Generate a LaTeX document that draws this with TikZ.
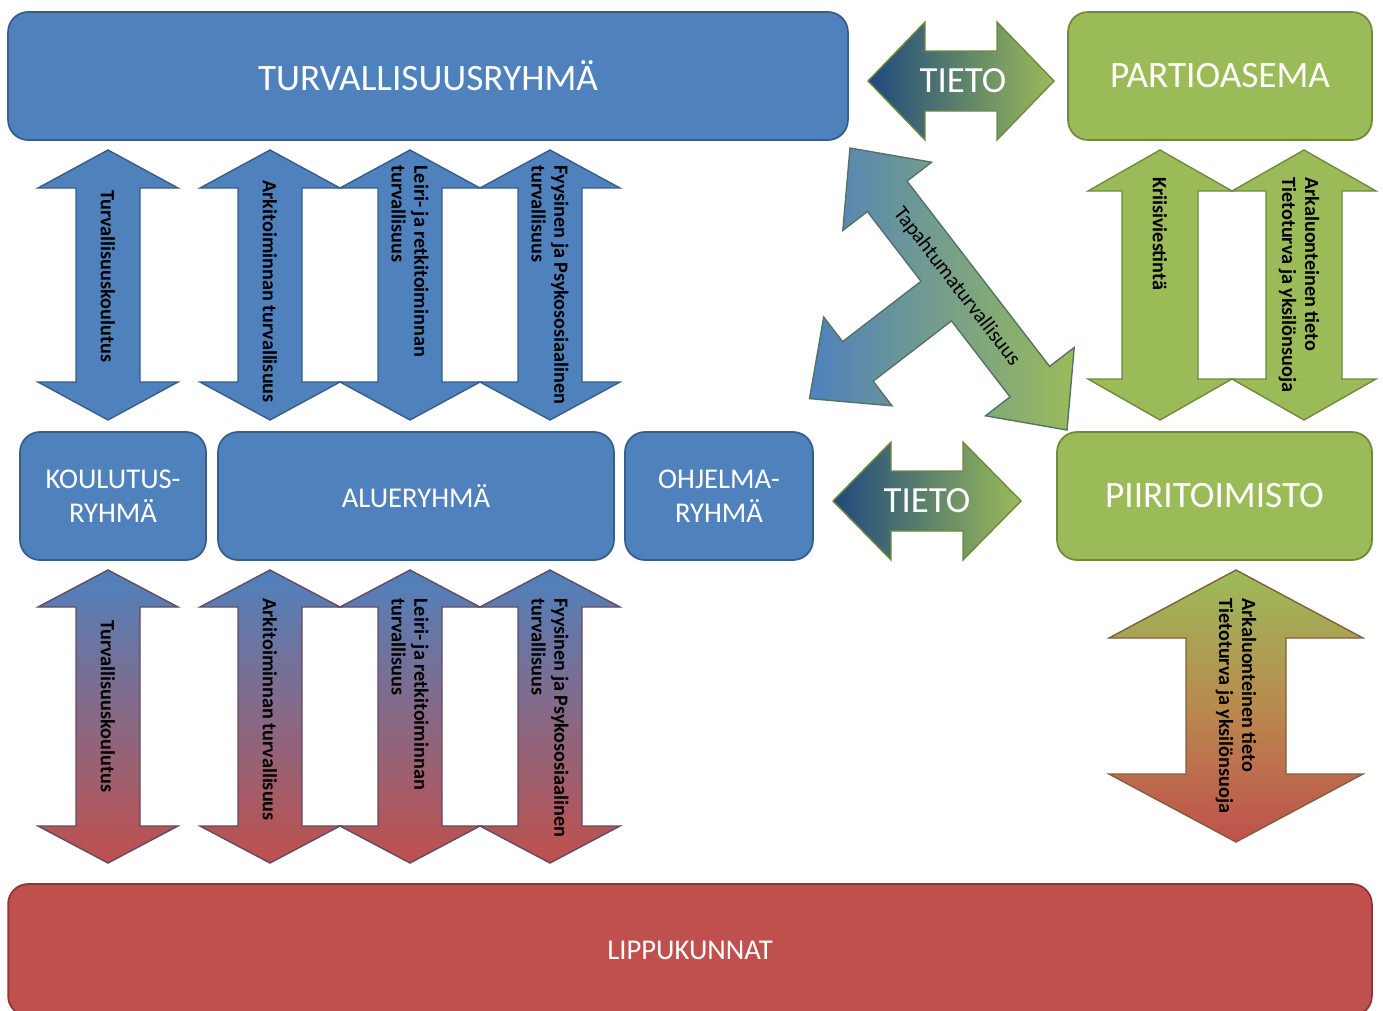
\documentclass[tikz,border=0pt]{standalone}
\usepackage{fontspec}
\setmainfont{Carlito}

\definecolor{accblue}{HTML}{4F81BD}
\definecolor{accblueline}{HTML}{385D8A}
\definecolor{accgreen}{HTML}{9BBB59}
\definecolor{accgreenline}{HTML}{71893F}
\definecolor{accred}{HTML}{C0504D}
\definecolor{accredline}{HTML}{8C3836}
\definecolor{accorange}{HTML}{B98A4E}
\definecolor{navy}{HTML}{1F497D}

% vertical double block arrow: [style]{x}{top}{bottom}{head half}{shaft half}{head length}
\newcommand{\vdarrow}[7][]{%
  \draw[#1] (#2,#3) -- (#2+#5,#3+#7) -- (#2+#6,#3+#7) -- (#2+#6,#4-#7) -- (#2+#5,#4-#7)
    -- (#2,#4) -- (#2-#5,#4-#7) -- (#2-#6,#4-#7) -- (#2-#6,#3+#7) -- (#2-#5,#3+#7) -- cycle;}
% horizontal double block arrow: [style]{left}{right}{y}{head half}{shaft half}{head length}
\newcommand{\hdarrow}[7][]{%
  \draw[#1] (#2,#4) -- (#2+#7,#4-#5) -- (#2+#7,#4-#6) -- (#3-#7,#4-#6) -- (#3-#7,#4-#5)
    -- (#3,#4) -- (#3-#7,#4+#5) -- (#3-#7,#4+#6) -- (#2+#7,#4+#6) -- (#2+#7,#4+#5) -- cycle;}

\begin{document}
\begin{tikzpicture}[x=0.02cm, y=-0.02cm,
		box/.style={rounded corners=0.4cm, line width=1pt, text=white, align=center},
		bluebox/.style={box, fill=accblue, draw=accblueline},
		greenbox/.style={box, fill=accgreen, draw=accgreenline},
		redbox/.style={box, fill=accred, draw=accredline},
		bigtext/.style={font=\fontsize{21.2}{25}\selectfont},
		midtext/.style={font=\fontsize{16.3}{19.5}\selectfont},
		tietotext/.style={text=white, font=\fontsize{21}{24}\selectfont},
		arrowtext/.style={rotate=-90, anchor=west, inner sep=0pt, align=left, font=\fontsize{11.5}{13}\selectfont\bfseries},
		bluearrow/.style={fill=accblue, draw=accblueline, line width=0.8pt},
		bluered/.style={top color=accblue, bottom color=accred, draw=accblueline!50!accredline, line width=0.8pt},
		greenarrow/.style={fill=accgreen, draw=accgreenline, line width=0.8pt},
		greenred/.style={top color=accgreen, bottom color=accred, middle color=accorange, draw=accgreenline!50!accredline, line width=0.8pt}]
		
		\useasboundingbox (0,0) rectangle (1383,1011);
		\clip (0,0) rectangle (1383,1011);
		
		% boxes
		\node (turva) at (428,76) [bluebox, bigtext, minimum width=16.8cm, minimum height=2.56cm] {TURVALLISUUSRYHMÄ};
		\node (partio) at (1220,76) [greenbox, bigtext, minimum width=6.08cm, minimum height=2.56cm] {PARTIOASEMA};
		\node (koulutus) at (113,496) [bluebox, midtext, minimum width=3.72cm, minimum height=2.56cm] {KOULUTUS-\\RYHMÄ};
		\node (alue) at (416,496) [bluebox, midtext, minimum width=7.92cm, minimum height=2.56cm] {ALUERYHMÄ};
		\node (ohjelma) at (719,496) [bluebox, midtext, minimum width=3.76cm, minimum height=2.56cm] {OHJELMA-\\RYHMÄ};
		\node (piiri) at (1214.5,496) [greenbox, bigtext, minimum width=6.3cm, minimum height=2.56cm] {PIIRITOIMISTO};
		\node (lippu) at (690,950) [redbox, midtext, minimum width=27.28cm, minimum height=2.64cm] {LIPPUKUNNAT};
		
		% TIETO arrows
		\hdarrow[left color=navy, right color=accgreen, draw=accgreenline, line width=0.8pt]{868}{1054}{81}{59}{30}{57}
		\hdarrow[left color=navy, right color=accgreen, draw=accgreenline, line width=0.8pt]{833}{1021}{501}{59}{30}{58}
		\node (tieto1) at (963,81) [tietotext] {TIETO};
		\node (tieto2) at (927,501) [tietotext] {TIETO};
		
		% three-way arrow
		\draw[left color=accblue, right color=accgreen, draw=accblueline!50!accgreenline, line width=0.8pt]
		(850,148) -- (931.6,162.2) -- (907.0,181.1) -- (1049.6,366.4) -- (1074.2,347.5) -- (1067,430)
		-- (985.5,415.8) -- (1010.0,396.9) -- (951.5,320.9) -- (873.1,381.2) -- (892.0,405.8)
		-- (809.5,398.6) -- (823.7,317.1) -- (842.6,341.6) -- (921.0,281.3) -- (867.4,211.6)
		-- (842.8,230.5) -- cycle;
		\node (tapahtuma) at (956.7,286.6) [rotate=-52.4, font=\fontsize{12}{14}\selectfont] {Tapahtumaturvallisuus};
		
		% arrows between turvallisuusryhma and the groups
		\vdarrow[bluearrow]{108}{150}{420}{70}{32}{38}
		\vdarrow[bluearrow]{270}{150}{420}{70}{32}{38}
		\vdarrow[bluearrow]{410}{150}{420}{70}{32}{38}
		\vdarrow[bluearrow]{550}{150}{420}{70}{32}{38}
		\node (t1) at (108,190) [arrowtext] {Turvallisuuskoulutus};
		\node (t2) at (270,180) [arrowtext] {Arkitoiminnan turvallisuus};
		\node (t3) at (410,165) [arrowtext] {Leiri- ja retkitoiminnan\\turvallisuus};
		\node (t4) at (550,165) [arrowtext] {Fyysinen ja Psykososiaalinen\\turvallisuus};
		
		% arrows between the groups and lippukunnat
		\vdarrow[bluered]{108}{570}{863}{70}{32}{37}
		\vdarrow[bluered]{270}{570}{863}{70}{32}{37}
		\vdarrow[bluered]{410}{570}{863}{70}{32}{37}
		\vdarrow[bluered]{550}{570}{863}{70}{32}{37}
		\node (b1) at (108,620) [arrowtext] {Turvallisuuskoulutus};
		\node (b2) at (270,598) [arrowtext] {Arkitoiminnan turvallisuus};
		\node (b3) at (410,598) [arrowtext] {Leiri- ja retkitoiminnan\\turvallisuus};
		\node (b4) at (550,598) [arrowtext] {Fyysinen ja Psykososiaalinen\\turvallisuus};
		
		% partioasema - piiritoimisto - lippukunnat
		\vdarrow[greenarrow]{1160}{150}{420}{72}{38}{41}
		\vdarrow[greenarrow]{1304}{150}{420}{72}{38}{41}
		\node (g1) at (1160,177) [arrowtext] {Kriisiviestintä};
		\node (g2) at (1299,177) [arrowtext] {Arkaluonteinen tieto\\Tietoturva ja yksilönsuoja};
		\vdarrow[greenred]{1236}{570}{842}{127}{50}{68}
		\node (r1) at (1236,598) [arrowtext] {Arkaluonteinen tieto\\Tietoturva ja yksilönsuoja};
	\end{tikzpicture}
\end{document}
